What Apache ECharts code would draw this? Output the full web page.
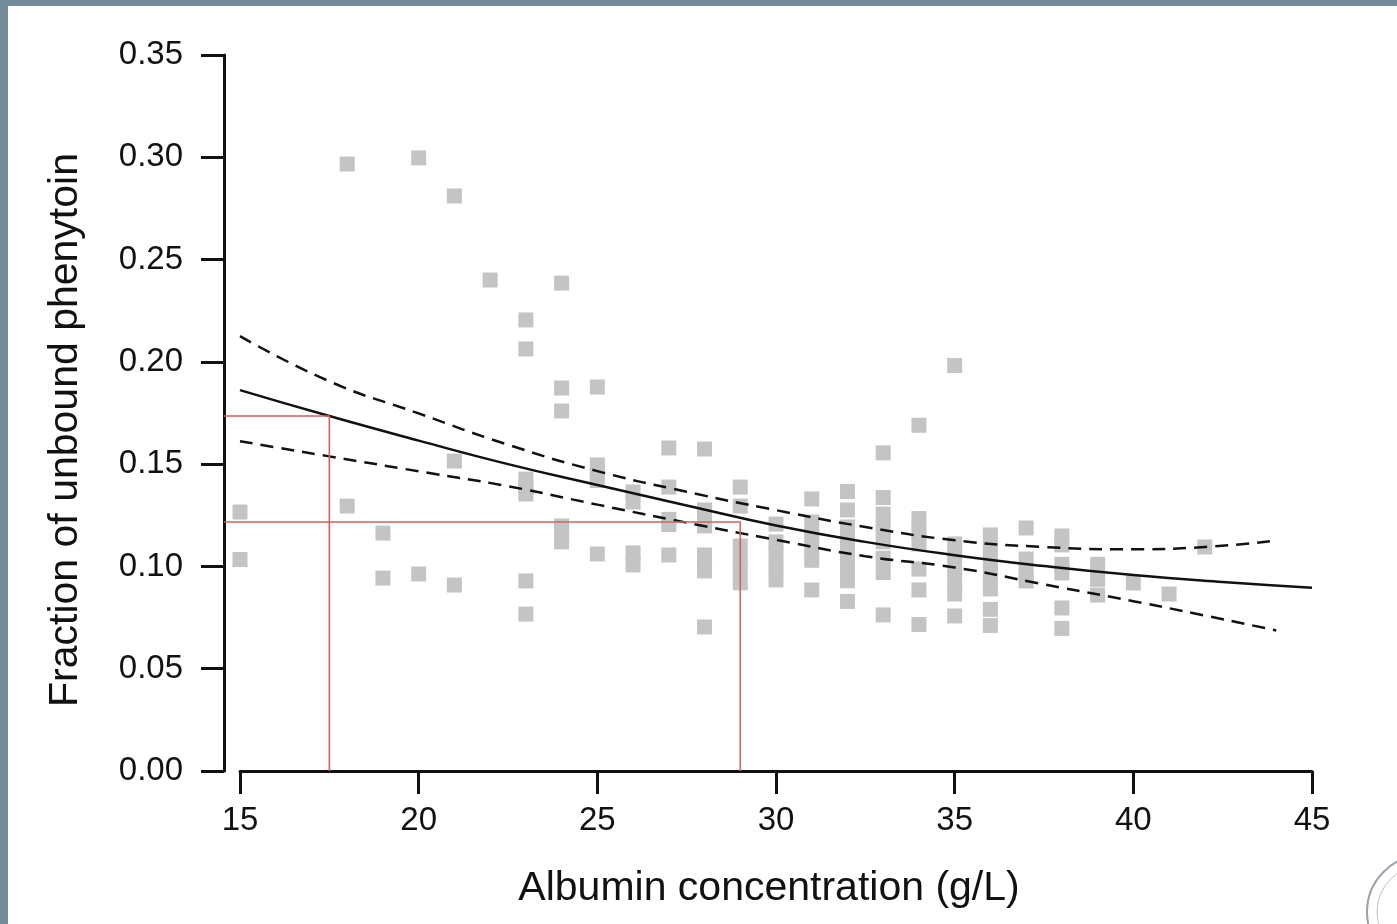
<!DOCTYPE html>
<html>
<head>
<meta charset="utf-8">
<script src="https://cdn.jsdelivr.net/npm/echarts@6/dist/echarts.min.js"></script>
<style>
  html, body { margin: 0; padding: 0; background: #ffffff; }
  #chart { width: 1397px; height: 924px; }
</style>
</head>
<body>
<div id="chart"></div>
<script>
// ---- Data ----
const xTicks = [15, 20, 25, 30, 35, 40, 45];
const yTicks = [0.00, 0.05, 0.10, 0.15, 0.20, 0.25, 0.30, 0.35];

// observations: albumin (g/L) and fraction of unbound phenytoin
const albumin = [
  15, 15,
  18, 18,
  19, 19,
  20, 20,
  21, 21, 21,
  22,
  23, 23, 23, 23, 23, 23, 23,
  24, 24, 24, 24, 24, 24,
  25, 25, 25, 25, 25,
  26, 26, 26, 26,
  27, 27, 27, 27, 27,
  28, 28, 28, 28, 28, 28, 28, 28,
  29, 29, 29, 29, 29, 29,
  30, 30, 30, 30, 30,
  31, 31, 31, 31, 31, 31,
  32, 32, 32, 32, 32, 32, 32, 32,
  33, 33, 33, 33, 33, 33, 33, 33,
  34, 34, 34, 34, 34, 34, 34,
  35, 35, 35, 35, 35, 35, 35,
  36, 36, 36, 36, 36, 36, 36,
  37, 37, 37, 37,
  38, 38, 38, 38, 38, 38,
  39, 39, 39,
  40,
  41,
  42
];
const unboundFraction = [
  0.1266, 0.1034,
  0.2967, 0.1295,
  0.1163, 0.0943,
  0.2997, 0.0963,
  0.2811, 0.1515, 0.0909,
  0.2400,
  0.2205, 0.2063, 0.1427, 0.1388, 0.1354, 0.0929, 0.0767,
  0.2385, 0.1872, 0.1760, 0.1198, 0.1159, 0.1120,
  0.1877, 0.1496, 0.1457, 0.1420, 0.1061,
  0.1364, 0.1315, 0.1066, 0.1007,
  0.1579, 0.1388, 0.1230, 0.1205, 0.1056,
  0.1574, 0.1276, 0.1237, 0.1198, 0.1056, 0.1017, 0.0978, 0.0704,
  0.1388, 0.1295, 0.1100, 0.1040, 0.0980, 0.0920,
  0.1207, 0.1120, 0.1060, 0.1000, 0.0934,
  0.1330, 0.1217, 0.1150, 0.1090, 0.1030, 0.0885,
  0.1366, 0.1276, 0.1193, 0.1130, 0.1070, 0.1000, 0.0930, 0.0829,
  0.1555, 0.1337, 0.1256, 0.1190, 0.1120, 0.1040, 0.0970, 0.0763,
  0.1690, 0.1234, 0.1170, 0.1110, 0.0987, 0.0885, 0.0716,
  0.1982, 0.1110, 0.1050, 0.0990, 0.0930, 0.0865, 0.0758,
  0.1154, 0.1090, 0.1020, 0.0960, 0.0890, 0.0790, 0.0711,
  0.1188, 0.1036, 0.0978, 0.0929,
  0.1149, 0.1105, 0.1010, 0.0968, 0.0797, 0.0697,
  0.1010, 0.0937, 0.0860,
  0.0919,
  0.0865,
  0.1095
];

// fitted curve
const fitX = [15, 17.5, 20, 22.5, 25, 27.5, 30, 32.5, 35, 37.5, 40, 42.5, 45];
const fitY = [0.1862, 0.1735, 0.1615, 0.1500, 0.1398, 0.1298, 0.1200, 0.1120, 0.1055, 0.1002, 0.0958, 0.0924, 0.0896];

// confidence band
const upperX = [15, 17.5, 20, 22.5, 25, 27.5, 30, 32.5, 35, 37.5, 40, 42, 44];
const upperY = [0.2126, 0.1905, 0.1748, 0.1595, 0.1466, 0.1365, 0.1275, 0.1193, 0.1128, 0.1095, 0.1084, 0.1095, 0.1126];
const lowerX = [15, 17.5, 20, 22.5, 25, 27.5, 30, 32.5, 35, 37.5, 40, 42, 44];
const lowerY = [0.1612, 0.1538, 0.1465, 0.1392, 0.1302, 0.1214, 0.1130, 0.1050, 0.0995, 0.0912, 0.0830, 0.0760, 0.0687];

// read-off guide lines (albumin -> fraction)
const guideAlbumin = [17.5, 29];
const guideFraction = [0.1735, 0.1217];

// ---- Chart ----
const FONT = '"Liberation Sans", Arial, Helvetica, sans-serif';
const chart = echarts.init(document.getElementById('chart'), null, { renderer: 'canvas' });

// Plot frame: x from 15 (px 240) to 45 (px 1312); y-axis drawn 16px left of x=15
const axisX = 224, x15 = 240, xRightPx = 1312, gridTop = 55, gridBottom = 153;
const xMin = 15, xMax = 45;
const pxPerUnit = (xRightPx - x15) / (xMax - xMin);
const dataXMin = xMin - (x15 - axisX) / pxPerUnit; // value at the y-axis line

const scatterData = albumin.map((a, i) => [a, unboundFraction[i]]);
const zip = (xs, ys) => xs.map((x, i) => [x, ys[i]]);

const guideSeries = guideAlbumin.map((a, i) => ({
  type: 'line',
  xAxisIndex: 0, yAxisIndex: 0,
  data: [[dataXMin, guideFraction[i]], [a, guideFraction[i]], [a, 0]],
  showSymbol: false,
  silent: true,
  z: 5,
  lineStyle: { color: '#d2625d', width: 1.6 }
}));

const tickFont = { color: '#111', fontFamily: FONT, fontSize: 33 };

const option = {
  backgroundColor: '#ffffff',
  animation: false,
  grid: [
    { // data grid: left edge at the y-axis line
      left: axisX, right: 1397 - xRightPx, top: gridTop, bottom: gridBottom,
      containLabel: false, outerBoundsMode: 'none'
    },
    { // x-axis grid: starts at 15
      left: x15, right: 1397 - xRightPx, top: gridTop, bottom: gridBottom,
      containLabel: false, outerBoundsMode: 'none'
    }
  ],
  xAxis: [
    {
      gridIndex: 0, type: 'value', min: dataXMin, max: xMax,
      show: false, splitLine: { show: false }
    },
    {
      gridIndex: 1, type: 'value', min: xMin, max: xMax, interval: 5,
      axisLine: { show: true, onZero: false, lineStyle: { color: '#111', width: 3 } },
      axisTick: { show: true, length: 23, lineStyle: { color: '#111', width: 3 } },
      splitLine: { show: false },
      axisLabel: Object.assign({ margin: 33 }, tickFont)
    }
  ],
  yAxis: [
    {
      gridIndex: 0, type: 'value', min: 0, max: 0.35, interval: 0.05,
      axisLine: { show: true, onZero: false, lineStyle: { color: '#111', width: 3 } },
      axisTick: { show: true, length: 23, lineStyle: { color: '#111', width: 3 } },
      splitLine: { show: false },
      axisLabel: Object.assign({ margin: 41, formatter: v => v.toFixed(2) }, tickFont)
    },
    {
      gridIndex: 1, type: 'value', min: 0, max: 0.35,
      show: false, splitLine: { show: false }
    }
  ],
  graphic: [
    { type: 'rect', shape: { x: 0, y: 0, width: 1397, height: 6 }, style: { fill: '#748c99' }, z: 100 },
    { type: 'rect', shape: { x: 0, y: 0, width: 8, height: 924 }, style: { fill: '#748c99' }, z: 100 },
    {
      type: 'text', x: 769, y: 889, z: 100,
      style: {
        text: 'Albumin concentration (g/L)', fill: '#111',
        font: '41px ' + FONT, textAlign: 'center', textVerticalAlign: 'middle'
      }
    },
    {
      type: 'text', x: 66, y: 430, rotation: Math.PI / 2, z: 100,
      style: {
        text: 'Fraction of unbound phenytoin', fill: '#111',
        font: '41px ' + FONT, textAlign: 'center', textVerticalAlign: 'middle'
      }
    },
    { type: 'circle', shape: { cx: 1424, cy: 912, r: 57 }, style: { fill: 'none', stroke: '#9aa3ab', lineWidth: 2 }, z: 100 },
    { type: 'circle', shape: { cx: 1424, cy: 912, r: 47 }, style: { fill: 'none', stroke: '#b9c2ca', lineWidth: 1 }, z: 100 }
  ],
  series: [
    {
      type: 'scatter', xAxisIndex: 0, yAxisIndex: 0,
      data: scatterData,
      symbol: 'rect',
      symbolSize: 15,
      silent: true,
      z: 1,
      itemStyle: { color: '#c4c4c4', opacity: 1 }
    },
    {
      type: 'line', xAxisIndex: 0, yAxisIndex: 0,
      data: zip(fitX, fitY), smooth: true, showSymbol: false, silent: true, z: 4,
      lineStyle: { color: '#111', width: 2.5 }
    },
    {
      type: 'line', xAxisIndex: 0, yAxisIndex: 0,
      data: zip(upperX, upperY), smooth: true, showSymbol: false, silent: true, z: 4,
      lineStyle: { color: '#111', width: 2.5, type: [13, 8] }
    },
    {
      type: 'line', xAxisIndex: 0, yAxisIndex: 0,
      data: zip(lowerX, lowerY), smooth: true, showSymbol: false, silent: true, z: 4,
      lineStyle: { color: '#111', width: 2.5, type: [13, 8] }
    },
    ...guideSeries
  ]
};
chart.setOption(option);
</script>
</body>
</html>
